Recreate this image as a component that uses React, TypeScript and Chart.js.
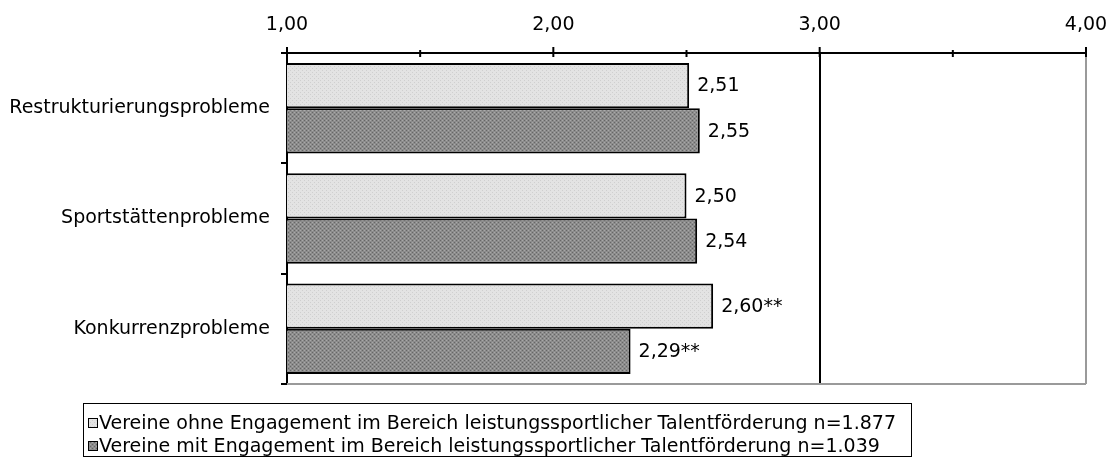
import React, { useEffect, useRef } from "react";
import { Chart, registerables } from "chart.js";

Chart.register(...registerables);

const categories = ["Restrukturierungsprobleme", "Sportstättenprobleme", "Konkurrenzprobleme"];
const seriesLabels = [
  "Vereine ohne Engagement im Bereich leistungssportlicher Talentförderung n=1.877",
  "Vereine mit Engagement im Bereich leistungssportlicher Talentförderung n=1.039",
];
const valuesOhne = [2.51, 2.5, 2.6];
const valuesMit = [2.55, 2.54, 2.29];
const sigOhne = ["", "", "**"];
const sigMit = ["", "", "**"];
const xTicks = [1, 1.5, 2, 2.5, 3, 3.5, 4];

const FONT = "'DejaVu Sans', Verdana, sans-serif";
const FS = 19;

function makePattern(base: string, dot: string, dot2?: string): CanvasPattern | string {
  const c = document.createElement("canvas");
  c.width = 4;
  c.height = 4;
  const g = c.getContext("2d");
  if (!g) return base;
  g.fillStyle = base;
  g.fillRect(0, 0, 4, 4);
  g.fillStyle = dot;
  g.fillRect(0, 0, 1, 1);
  g.fillRect(2, 2, 1, 1);
  if (dot2) {
    g.fillStyle = dot2;
    g.fillRect(2, 0, 1, 1);
    g.fillRect(0, 2, 1, 1);
  }
  const ctx = document.createElement("canvas").getContext("2d");
  return ctx ? (ctx.createPattern(c, "repeat") as CanvasPattern) : base;
}

const fmt = (v: number) => v.toFixed(2).replace(".", ",");

export default function App() {
  const ref = useRef<HTMLCanvasElement>(null);

  useEffect(() => {
    if (!ref.current) return;
    const lightPat = makePattern("#e3e3e3", "#cfcfcf");
    const darkPat = makePattern("#8c8c8c", "#666666", "#a8a8a8");
    const swatches = [lightPat, darkPat];

    const extras = {
      id: "extras",
      afterDraw(chart: any) {
        const { ctx, chartArea, scales } = chart;
        const xs = scales.x;
        ctx.save();
        // bottom line
        ctx.strokeStyle = "#9a9a9a";
        ctx.lineWidth = 2;
        ctx.beginPath();
        ctx.moveTo(chartArea.left, chartArea.bottom);
        ctx.lineTo(chartArea.right, chartArea.bottom);
        ctx.stroke();
        // x tick marks crossing the axis
        ctx.strokeStyle = "#000";
        ctx.lineWidth = 2;
        xTicks.forEach((t) => {
          const px = xs.getPixelForValue(t);
          const major = t % 1 === 0;
          ctx.beginPath();
          ctx.moveTo(px, chartArea.top - (major ? 6 : 3));
          ctx.lineTo(px, chartArea.top + 4);
          ctx.stroke();
        });
        // top axis line
        ctx.beginPath();
        ctx.moveTo(chartArea.left - 5, chartArea.top);
        ctx.lineTo(chartArea.right, chartArea.top);
        ctx.stroke();

        // legend
        const bx = 83, by = 403, bw = 828, bh = 53;
        ctx.lineWidth = 1;
        ctx.strokeStyle = "#000";
        ctx.strokeRect(bx + 0.5, by + 0.5, bw, bh);
        ctx.font = `${FS}px ${FONT}`;
        ctx.textBaseline = "middle";
        ctx.textAlign = "left";
        seriesLabels.forEach((lab, i) => {
          const cy = by + 20 + i * 23;
          ctx.fillStyle = swatches[i] as any;
          ctx.fillRect(88, cy - 5, 10, 10);
          ctx.strokeStyle = "#000";
          ctx.strokeRect(88.5, cy - 4.5, 9, 9);
          ctx.fillStyle = "#000";
          ctx.fillText(lab, 99, cy + 1, 806);
        });
        ctx.restore();
      },
      afterDatasetsDraw(chart: any) {
        const { ctx } = chart;
        ctx.save();
        ctx.font = `${FS}px ${FONT}`;
        ctx.fillStyle = "#000";
        ctx.textBaseline = "middle";
        ctx.textAlign = "left";
        const sigs = [sigOhne, sigMit];
        chart.data.datasets.forEach((ds: any, di: number) => {
          const meta = chart.getDatasetMeta(di);
          meta.data.forEach((el: any, i: number) => {
            ctx.fillText(fmt(ds.data[i]) + sigs[di][i], el.x + 8, el.y + 1);
          });
        });
        ctx.restore();
      },
    };

    const chart = new Chart(ref.current, {
      type: "bar",
      data: {
        labels: categories,
        datasets: [
          {
            label: seriesLabels[0],
            data: valuesOhne,
            backgroundColor: lightPat as any,
            borderColor: "#000",
            borderWidth: 2,
            borderSkipped: false,
            barPercentage: 1,
            categoryPercentage: 0.82,
          },
          {
            label: seriesLabels[1],
            data: valuesMit,
            backgroundColor: darkPat as any,
            borderColor: "#000",
            borderWidth: 2,
            borderSkipped: false,
            barPercentage: 1,
            categoryPercentage: 0.82,
          },
        ],
      },
      options: {
        indexAxis: "y",
        animation: false,
        responsive: true,
        maintainAspectRatio: false,
        layout: { padding: { left: 0, top: 0, right: 27, bottom: 87 } },
        plugins: { legend: { display: false }, tooltip: { enabled: false } },
        scales: {
          x: {
            position: "top",
            min: 1,
            max: 4,
            afterBuildTicks: (scale: any) => {
              scale.ticks = xTicks.map((v) => ({ value: v }));
            },
            afterFit: (scale: any) => {
              scale.height = 53;
              scale.paddingLeft = 0;
              scale.paddingRight = 0;
            },
            ticks: {
              autoSkip: false,
              maxRotation: 0,
              padding: 17,
              color: "#000",
              font: { family: FONT, size: FS },
              callback: (v: any) => (Number(v) % 1 === 0 ? fmt(Number(v)) : ""),
            },
            grid: {
              drawTicks: false,
              lineWidth: 2,
              color: (c: any) =>
                c.tick && c.tick.value === 3 ? "#000" : c.tick && c.tick.value === 4 ? "#9a9a9a" : "rgba(0,0,0,0)",
            },
            border: { display: false },
          },
          y: {
            afterFit: (scale: any) => {
              scale.width = 287;
              scale.paddingTop = 0;
              scale.paddingBottom = 0;
            },
            ticks: {
              color: "#000",
              padding: 11,
              font: { family: FONT, size: FS },
            },
            grid: {
              offset: true,
              drawOnChartArea: false,
              tickLength: 6,
              lineWidth: 2,
              color: "#000",
            },
            border: { display: true, color: "#000", width: 2 },
          },
        },
      },
      plugins: [extras],
    });
    return () => chart.destroy();
  }, []);

  return (
    <div style={{ position: "fixed", left: 0, top: 0, width: 1113, height: 471, background: "#fff" }}>
      <canvas ref={ref} />
    </div>
  );
}
